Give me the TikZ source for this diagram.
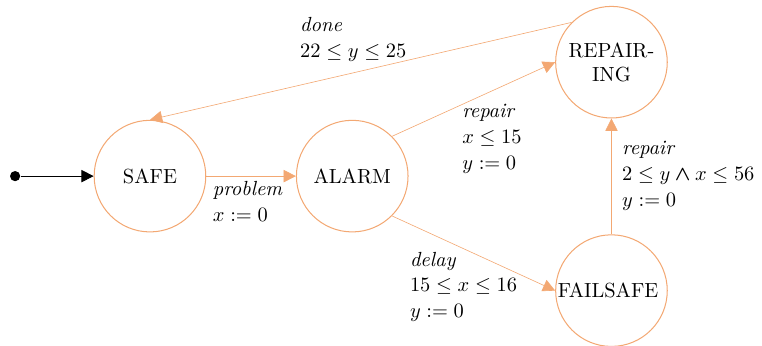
\documentclass[tikz,border=0pt]{standalone}
\usepackage{amsmath,amssymb,bm}
\definecolor{locorange}{RGB}{243,168,115}
\usetikzlibrary{arrows.meta,positioning}

\begin{document}
\begin{tikzpicture}[
    loc/.style={circle,draw=locorange,line width=0.5pt,minimum size=1.92cm,inner sep=0pt,align=center},
    trans/.style={draw=locorange,line width=0.3pt,-{Triangle[length=6pt,width=6pt]}},
    guard/.style={align=left,anchor=north west,font=\fontsize{10}{12.6}\selectfont}]
  \useasboundingbox (-2.58,-2.91) rectangle (10.53,3.03);
  % Locations
  \foreach \n/\x/\y/\t in {
    safe/0/0/SAFE,
    alarm/3.48/0/ALARM,
    repairing/7.94/1.96/{REPAIR-\\ING},
    failsafe/7.94/-1.97/FAILSAFE
  } {
    \node[loc] (\n) at (\x,\y) {\t};
  }
  % Initial location
  \node[circle,fill,inner sep=0pt,minimum size=5pt] (init) at (-2.32,0) {};
  \draw[-{Triangle[length=6pt,width=6pt]}] (init) -- (safe);
  % Transitions
  \draw[trans] (safe) -- (alarm);
  \draw[trans] (alarm.north east) -- (repairing.west);
  \draw[trans] (alarm.south east) -- (failsafe.west);
  \draw[trans] (failsafe) -- (repairing);
  \draw[trans] (repairing.north west) -- (safe.north);
  % Guards and resets
  \node[guard] (gproblem) at (0.96,0.03) {\textit{problem}\\$x := 0$};
  \node[guard] (grepair) at (5.25,1.36) {\textit{repair}\\$x \leq 15$\\$y := 0$};
  \node[guard] (gdone) at (2.46,2.86) {\textit{done}\\$22 \leq y \leq 25$};
  \node[guard] (gdelay) at (4.35,-1.18) {\textit{delay}\\$15 \leq x \leq 16$\\$y := 0$};
  \node[guard] (gfix) at (8.0,0.72) {\textit{repair}\\$2 \leq y \mathbin{\bm{\wedge}} x \leq 56$\\$y := 0$};
\end{tikzpicture}
\end{document}
